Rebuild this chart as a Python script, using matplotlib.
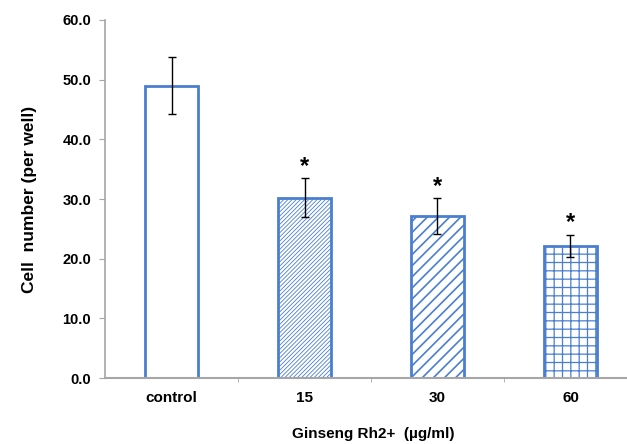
import matplotlib.pyplot as plt
import numpy as np

# Data
groups = ['control', '15', '30', '60']
cell_counts = [49.0, 30.2, 27.1, 22.1]
errors = [4.8, 3.3, 3.0, 1.9]
significant = [False, True, True, True]
hatches = ['', '////////', '///', '++']

blue = '#4a7fcf'
axis_gray = '#a6a6a6'

plt.rcParams['font.family'] = ['Liberation Sans', 'DejaVu Sans']
plt.rcParams['hatch.linewidth'] = 1.2

fig = plt.figure(figsize=(6.27, 4.44), dpi=100)
ax = fig.add_axes([0.1675, 0.1486, 0.8325, 0.8064])

x = np.arange(len(groups))
bars = ax.bar(x, cell_counts, width=0.4, color='white', edgecolor=blue, linewidth=2, zorder=2)
for bar, h in zip(bars, hatches):
    bar.set_hatch(h)
try:
    bars[1].set_hatch_linewidth(0.6)
    bars[3].set_hatch_linewidth(0.9)
except AttributeError:
    pass

ax.errorbar(x, cell_counts, yerr=errors, fmt='none', ecolor='black', elinewidth=1, capsize=3, capthick=1, zorder=3)

for xi, val, err, sig in zip(x, cell_counts, errors, significant):
    if sig:
        ax.text(xi, val + err + 0.1, '*', ha='center', va='bottom', fontsize=17, fontweight='bold')

ax.set_xlim(-0.5, 3.425)
ax.set_ylim(0, 60)
ax.set_yticks(np.arange(0, 61, 10))
ax.set_yticklabels([f'{v:.1f}' for v in np.arange(0, 61, 10)], fontsize=10.5, fontweight='bold')
ax.set_xticks(x)
ax.set_xticklabels(groups, fontsize=11, fontweight='bold')
ax.set_xticks(np.arange(0.5, 3.5, 1), minor=True)
ax.tick_params(axis='x', which='major', length=0, pad=9)
ax.tick_params(axis='x', which='minor', length=3, color=axis_gray)
ax.tick_params(axis='y', length=4, color=axis_gray, pad=6)

ax.spines['top'].set_visible(False)
ax.spines['right'].set_visible(False)
ax.spines['left'].set_color(axis_gray)
ax.spines['bottom'].set_color(axis_gray)
ax.spines['left'].set_linewidth(1.2)
ax.spines['bottom'].set_linewidth(1.5)

ax.set_ylabel('Cell  number (per well)', fontsize=12.5, fontweight='bold', labelpad=18)
fig.text(0.595, 0.022, 'Ginseng Rh2+  (µg/ml)', ha='center', va='center', fontsize=11, fontweight='bold')

plt.savefig('out.png', dpi=100, facecolor='white')
